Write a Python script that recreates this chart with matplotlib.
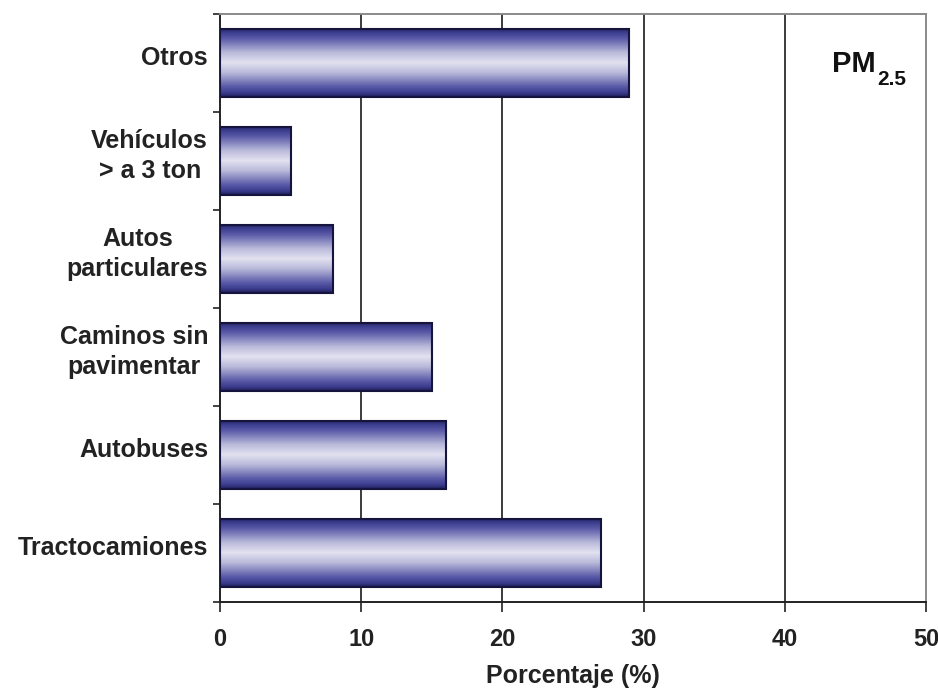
import numpy as np
import matplotlib
matplotlib.use("Agg")
import matplotlib.pyplot as plt
from matplotlib.colors import LinearSegmentedColormap
from matplotlib.transforms import ScaledTranslation

plt.rcParams['font.family'] = ['Liberation Sans', 'DejaVu Sans']

categories = ["Tractocamiones", "Autobuses", "Caminos sin\npavimentar",
              "Autos\nparticulares", "Vehículos\n> a 3 ton", "Otros"]
values = [27, 16, 15, 8, 5, 29]
xticks = [0, 10, 20, 30, 40, 50]

W, H = 938, 692
fig = plt.figure(figsize=(W / 100, H / 100), dpi=100)
ax = fig.add_axes([220 / W, 1 - 602 / H, 706 / W, 588 / H])

# vertical shading for the bars: dark edges, pale centre
grad_cmap = LinearSegmentedColormap.from_list(
    "barshade",
    [(0.0, "#1e1e55"), (0.06, "#3c3c8e"), (0.15, "#5a5aa8"),
     (0.35, "#b8b8da"), (0.5, "#e2e2f0"), (0.65, "#b8b8da"),
     (0.85, "#5a5aa8"), (0.94, "#3c3c8e"), (1.0, "#1e1e55")])
grad = np.linspace(0, 1, 256).reshape(-1, 1)

ypos = np.arange(len(categories))
bars = ax.barh(ypos, values, height=0.7, color="none",
               edgecolor="#14143c", linewidth=1.5, zorder=3)
for b in bars:
    x0, y0, w, h = b.get_x(), b.get_y(), b.get_width(), b.get_height()
    im = ax.imshow(grad, cmap=grad_cmap, aspect="auto",
                   extent=(x0, x0 + w, y0, y0 + h), origin="lower",
                   interpolation="bilinear", zorder=2)
    im.set_clip_path(b)

ax.set_xlim(0, 50)
ax.set_ylim(-0.5, len(categories) - 0.5)

for gx in xticks[1:-1]:
    ax.axvline(gx, color="#1a1a1a", linewidth=1.2, zorder=1)

ax.set_xticks(xticks)
ax.set_xticklabels([str(t) for t in xticks], fontsize=17, fontweight="bold")
ax.tick_params(axis="x", direction="out", length=7, width=1.2, pad=12,
               colors="#222222")

# category names, centred per line and right-aligned to the axis
ax.set_yticks(ypos)
ax.set_yticklabels([])
ax.tick_params(axis="y", which="major", length=0)
label_tf = ax.get_yaxis_transform() + ScaledTranslation(
    -12 / 100, 5 / 100, fig.dpi_scale_trans)
for y, name in zip(ypos, categories):
    ax.text(0, y, name, transform=label_tf, fontsize=18, fontweight="bold",
            ha="right", va="center", multialignment="center",
            linespacing=1.3, color="#222222")

ax.set_yticks(np.arange(-0.5, len(categories), 1.0), minor=True)
ax.tick_params(axis="y", which="minor", direction="out", length=5, width=1.2,
               colors="#222222")

ax.set_xlabel("Porcentaje (%)", fontsize=18, fontweight="bold",
              color="#222222", labelpad=9)

for side in ("left", "bottom"):
    ax.spines[side].set_color("#222222")
    ax.spines[side].set_linewidth(1.4)
for side in ("top", "right"):
    ax.spines[side].set_color("#8a8a8a")
    ax.spines[side].set_linewidth(1.4)

# PM2.5 tag with a lowered subscript
fig.text(876 / W, 1 - 72 / H, "PM", fontsize=21, fontweight="bold",
         ha="right", va="baseline", color="#111111")
fig.text(877 / W, 1 - 85 / H, "2.5", fontsize=15, fontweight="bold",
         ha="left", va="baseline", color="#111111")

fig.savefig("out.png", dpi=100)
